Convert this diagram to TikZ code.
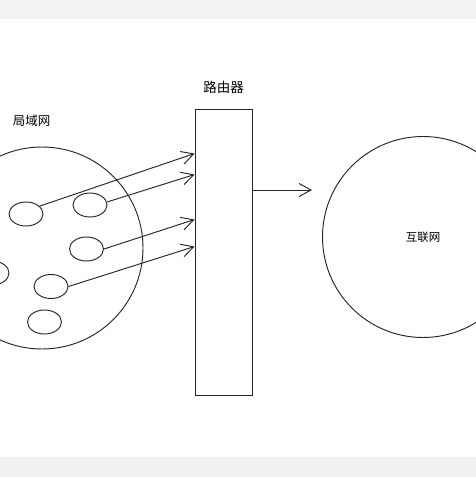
\documentclass[tikz,border=0pt]{standalone}
\usepackage{fontspec}
\newfontfamily\cjk{Noto Sans CJK SC}
\usetikzlibrary{shapes.geometric,arrows.meta}
\tikzset{
  host/.style={draw,ellipse,minimum width=34pt,minimum height=24pt,inner sep=0pt},
  link/.style={-{Straight Barb[length=12pt,width=13pt]}},
  lbl/.style={text=black}
}
\begin{document}
\begin{tikzpicture}[x=1pt,y=-1pt,line width=0.95pt,draw=black!85]
   \clip (0,0) rectangle (476,477);
   \fill[black!5] (0,0) rectangle (476,19);
   \fill[black!6] (0,457) rectangle (476,477);

   \node[draw,circle,minimum size=202pt,inner sep=0pt] (lan) at (42,248) {};
   \node[lbl,font=\cjk\fontsize{12.5}{14}\selectfont] (lanlbl) at (31.5,120.5) {局域网};

   \node[host] (h1) at (26,214) {};
   \node[host] (h2) at (90,205) {};
   \node[host] (h3) at (86.5,249) {};
   \node[host] (h4) at (-8,273) {};
   \node[host] (h5) at (51,286.5) {};
   \node[host] (h6) at (44.5,322) {};

   \node[draw,rectangle,minimum width=57pt,minimum height=286pt,inner sep=0pt] (router) at (223.5,252) {};
   \node[lbl,font=\cjk\fontsize{13.5}{15}\selectfont] (routerlbl) at (223.5,87) {路由器};

   \node[draw,circle,minimum size=201pt,inner sep=0pt,lbl,font=\cjk\fontsize{11.5}{13}\selectfont] (net) at (423,237) {互联网};

   \coordinate (in1) at ([yshift=-45pt]router.north west);
   \coordinate (in2) at ([yshift=-66pt]router.north west);
   \coordinate (in3) at ([yshift=-111pt]router.north west);
   \coordinate (in4) at ([yshift=-138pt]router.north west);
   \coordinate (out) at ([yshift=62pt]router.east);
   \coordinate (tip) at (312,190);

   \draw[link] (h1.30) -- (in1);
   \draw[link] (h2.10) -- (in2);
   \draw[link] (h3.east) -- (in3);
   \draw[link] (h5.east) -- (in4);
   \draw[link] (out) -- (tip);
\end{tikzpicture}
\end{document}
